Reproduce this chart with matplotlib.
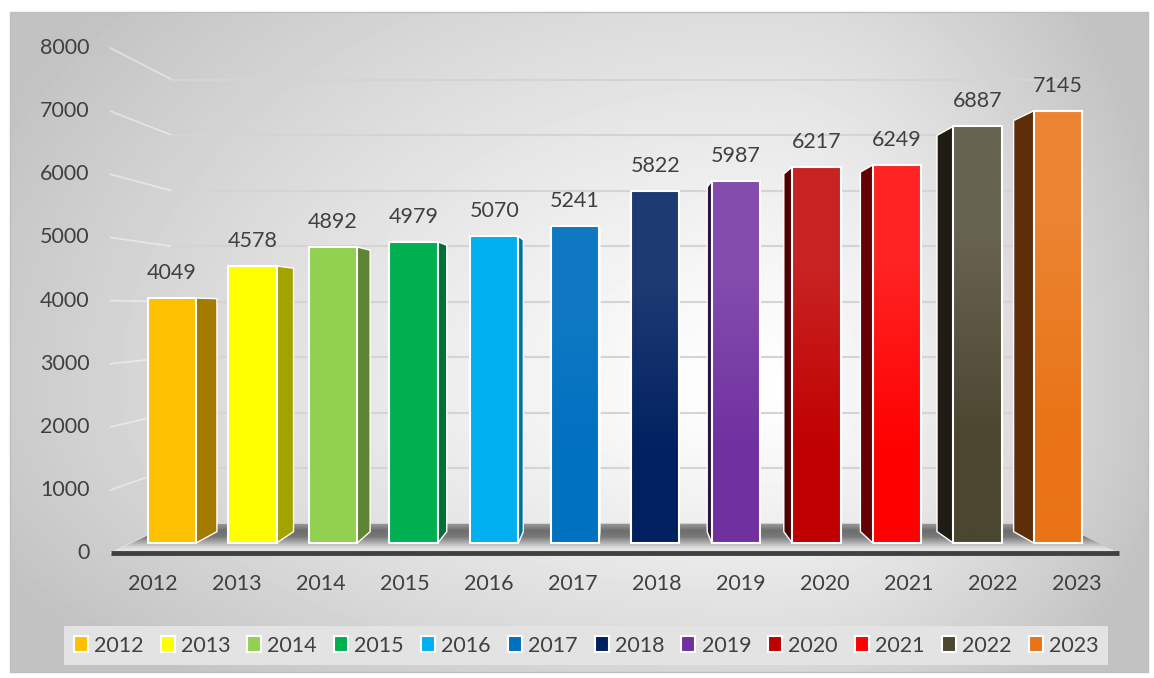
import numpy as np
import matplotlib
matplotlib.use('Agg')
import matplotlib.pyplot as plt
import matplotlib.colors as mcolors
from matplotlib.patches import Polygon, Rectangle, Patch

years = ['2012', '2013', '2014', '2015', '2016', '2017',
         '2018', '2019', '2020', '2021', '2022', '2023']
values = [4049, 4578, 4892, 4979, 5070, 5241, 5822, 5987, 6217, 6249, 6887, 7145]
colors = ['#FFC000', '#FFFF00', '#92D050', '#00B050', '#00B0F0', '#0070C0',
          '#002060', '#7030A0', '#C00000', '#FF0000', '#4B4630', '#E97316']
y_ticks = [0, 1000, 2000, 3000, 4000, 5000, 6000, 7000, 8000]

# lighter top of front face (lighting), per bar
shade = [0, 0, 0, 0, 0, 0.06, 0.12, 0.14, 0.14, 0.14, 0.16, 0.12]

plt.rcParams['font.family'] = ['Lato', 'DejaVu Sans']
TXT = '#404040'
FS = 15.5

W, H = 1154, 678
fig = plt.figure(figsize=(W / 100, H / 100), dpi=100)

# ---- background: radial grey gradient inside a thin border
bg = fig.add_axes([0, 0, 1, 1])
bg.axis('off')
yy, xx = np.mgrid[0:H, 0:W].astype(float)
cx, cy = 760, 390
dx = np.where(xx < cx, (xx - cx) / 800, (xx - cx) / 390)
dy = np.where(yy < cy, (yy - cy) / 560, (yy - cy) / 370)
d = np.sqrt(dx ** 2 + dy ** 2)
img = np.clip(255 - 56 * d ** 1.2, 194, 255)
inside = (xx >= 10) & (xx <= 1148) & (yy >= 12) & (yy <= 672)
img = np.where(inside, img, 255)
bg.imshow(img, extent=(0, W, H, 0), cmap='gray', vmin=0, vmax=255, aspect='auto')
bg.add_patch(Rectangle((10, 12), 1138, 660, fill=False, ec='#bfbfbf', lw=1))
bg.set_xlim(0, W)
bg.set_ylim(H, 0)

# ---- chart axes: data coords = plane of the bar fronts
ax = fig.add_axes([0.07925, 0.10988, 0.90741, 0.84771])
ax.axis('off')

VX, VY = 5.56, 3835          # vanishing point
R_AXIS, R_WALL, R_BACK = 1.043, 0.918, 0.951


def persp(x, y, r):
    return VX + (x - VX) * r, VY + (y - VY) * r


x0, x1 = -0.5, len(years) - 0.5

# walls + gridlines
for t in y_ticks:
    fx, fy = persp(x0, t, R_AXIS)
    wx, wy = persp(x0, t, R_WALL)
    ex, ey = persp(x1, t, R_WALL)
    ax.plot([fx, wx], [fy, wy], color='white', alpha=0.45, lw=1.3, zorder=1)
    ax.plot([wx, ex], [wy, ey], color='#d4d4d4', lw=1.5, zorder=1)
    ax.annotate(str(t), (fx, fy), xytext=(-21, 0), textcoords='offset pixels',
                ha='right', va='center', fontsize=FS, color=TXT)

# floor
FL = persp(x0, 0, R_AXIS)
FR = persp(x1, 0, R_AXIS)
BR = persp(x1, 0, R_WALL)
BL = persp(x0, 0, R_WALL)
floor = Polygon([FL, FR, BR, BL], closed=True, fc='none', ec='none', zorder=2)
ax.add_patch(floor)
stops = [(0.0, 0.93), (0.18, 0.86), (0.55, 0.47), (0.75, 0.43), (1.0, 0.62)]
pos = np.linspace(0, 1, 200)
g = np.interp(pos, [s[0] for s in stops], [s[1] for s in stops])
grad = np.repeat(g[:, None], 4, axis=1)
fim = ax.imshow(grad, extent=(FL[0], FR[0], FL[1], BL[1]), origin='lower',
                cmap='gray', vmin=0, vmax=1, aspect='auto', zorder=2)
fim.set_clip_path(floor)
ax.plot([FL[0], FR[0]], [FL[1], FR[1]], color='#404040', lw=3.5,
        solid_capstyle='butt', zorder=3)

# bars
bw = 0.6
for i, (v, c) in enumerate(zip(values, colors)):
    xl, xr = i - bw / 2, i + bw / 2
    rgb = np.array(mcolors.to_rgb(c))
    if xr < VX:
        xs, dark = xr, 0.64
    elif xl > VX:
        xs, dark = xl, 0.40
    else:
        xs = None
    if xs is not None:
        side = [(xs, 0), (xs, v), persp(xs, v, R_BACK), persp(xs, 0, R_BACK)]
        ax.add_patch(Polygon(side, closed=True, fc=rgb * dark, ec='white',
                             lw=1, zorder=4))
    rect = ax.bar(i, v, bw, color=c, edgecolor='none', zorder=5)[0]
    if shade[i] > 0:
        top = rgb + (1 - rgb) * shade[i]
        gr = np.array([[rgb], [top]])
        im = ax.imshow(gr, extent=(xl, xr, 0, v), origin='lower', aspect='auto',
                       interpolation='bilinear', zorder=5.5)
        im.set_clip_path(rect)
    ax.bar(i, v, bw, fill=False, edgecolor='white', lw=1.5, zorder=6)
    ax.annotate(str(v), (i, v), xytext=(0, 25), textcoords='offset pixels',
                ha='center', va='center', fontsize=FS, color=TXT, zorder=7)
    lx, ly = persp(i, 0, R_AXIS)
    ax.annotate(years[i], (lx, ly), xytext=(0, -31), textcoords='offset pixels',
                ha='center', va='center', fontsize=FS, color=TXT)

ax.set_xlim(-1, 12)
ax.set_ylim(-1000, 8500)

handles = [Patch(facecolor=c, edgecolor='white', lw=1.5) for c in colors]
leg = fig.legend(handles, years, ncol=len(years), loc='center',
                 bbox_to_anchor=(0.5078, 0.0479), frameon=True, fancybox=False,
                 facecolor='#e3e3e3', edgecolor='none', framealpha=1,
                 fontsize=FS, labelcolor=TXT, handlelength=0.65,
                 handleheight=0.7, handletextpad=0.28, columnspacing=0.8,
                 borderpad=0.45)

fig.savefig('out.png', dpi=100)
